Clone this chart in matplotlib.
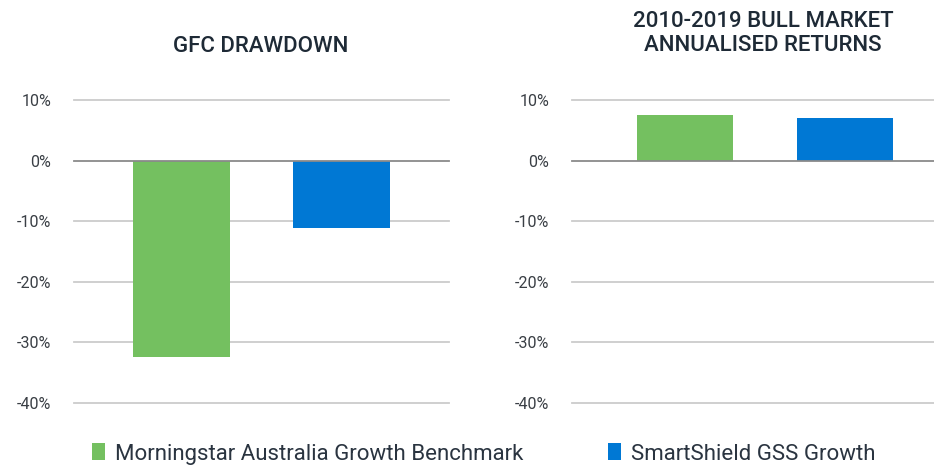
import matplotlib
matplotlib.use("Agg")
import matplotlib.pyplot as plt
from matplotlib.patches import Patch

series = ["Morningstar Australia Growth Benchmark", "SmartShield GSS Growth"]
colors = ["#74c060", "#0078d4"]
titles = ["GFC DRAWDOWN", "2010-2019 BULL MARKET\nANNUALISED RETURNS"]
gfc_values = [-32.4, -11.1]
bull_values = [7.6, 7.1]
yticks = [10, 0, -10, -20, -30, -40]
ytick_labels = ["10%", "0%", "-10%", "-20%", "-30%", "-40%"]

plt.rcParams['font.family'] = ['Roboto', 'DejaVu Sans']
W, H = 934, 465
fig = plt.figure(figsize=(W/100, H/100), dpi=100)

bottom = (H-403)/H
height = (403-100)/H
ax1 = fig.add_axes([74/W, bottom, 375/W, height])
ax2 = fig.add_axes([572/W, bottom, 362/W, height])

title_color = "#1e2a36"
for ax, vals, xlim in [(ax1, gfc_values, (-0.675, 1.675)),
                       (ax2, bull_values, (-0.706, 1.556))]:
    for y in yticks:
        if y == 0:
            continue
        ax.axhline(y, color="#cccccc", lw=1.3, zorder=0, clip_on=False)
    ax.bar([0, 1], vals, width=0.605, color=colors, zorder=2)
    ax.axhline(0, color="#8a8a8a", lw=1.3, zorder=3, clip_on=False)
    ax.set_xlim(*xlim)
    ax.set_ylim(-40, 10)
    ax.set_yticks(yticks)
    ax.set_yticklabels(ytick_labels)
    ax.set_xticks([])
    for s in ax.spines.values():
        s.set_visible(False)
    ax.tick_params(axis='y', length=0, pad=16.5, labelsize=11.5, labelcolor="#3a3f45")

fig.text(261/W, 1 - 46/H, titles[0], ha='center', va='center', fontsize=16,
         fontweight='medium', color=title_color)
fig.text(763/W, 1 - 33.5/H, titles[1], ha='center', va='center', fontsize=16,
         fontweight='medium', color=title_color, linespacing=1.15)

handles = [Patch(facecolor=c, edgecolor='none') for c in colors]
fig.legend(handles, series, loc='center left', bbox_to_anchor=(92/W, 1 - 454/H),
           ncol=2, frameon=False, handlelength=0.6, handleheight=0.77,
           handletextpad=0.45, columnspacing=3.8, labelcolor="#2a3440", borderpad=0,
           borderaxespad=0, prop={'weight': 'normal', 'size': 16})

fig.savefig("out.png", dpi=100)
